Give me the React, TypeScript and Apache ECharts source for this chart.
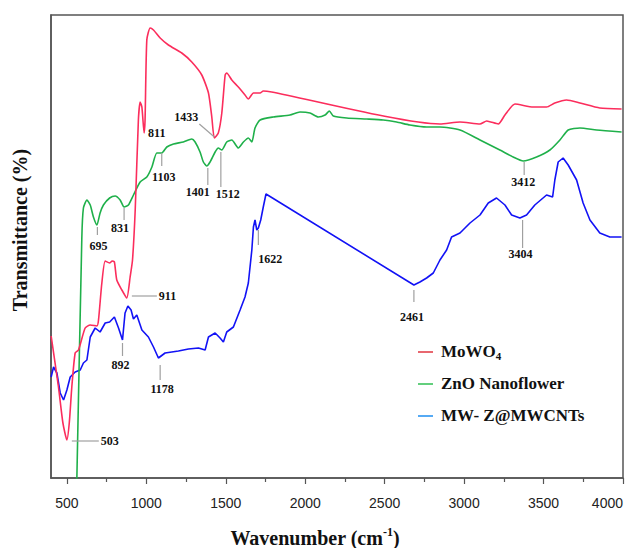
import React, { useEffect, useRef } from 'react';
import * as echarts from 'echarts';

// ---------- data ----------
const seriesNames = ['MoWO4', 'ZnO Nanoflower', 'MW- Z@MWCNTs'];
const xTicks = [500, 1000, 1500, 2000, 2500, 3000, 3500, 4000];
const xMinorTicks = [750, 1250, 1750, 2250, 2750, 3250, 3750];

const moWO4: number[][] = [
  [401, 142], [447, 91], [475, 55], [500, 38], [515, 55], [531, 91], [552, 125], [573, 128], [615, 150], [647, 153],
  [689, 152], [699, 158], [720, 195], [741, 217], [769, 215], [785, 217], [799, 216], [814, 198], [846, 188],
  [877, 180], [898, 201], [913, 218], [930, 268], [950, 358], [961, 376], [972, 371], [986, 345], [992, 358],
  [1003, 438], [1024, 450], [1045, 448], [1087, 440], [1139, 433], [1223, 425], [1286, 416], [1349, 403],
  [1391, 385], [1412, 361], [1428, 340], [1453, 345], [1475, 365], [1496, 403], [1506, 405], [1538, 398],
  [1579, 391], [1621, 383], [1642, 379], [1674, 385], [1716, 385], [1736, 387], [1789, 386], [2848, 354],
  [2974, 356], [3100, 354], [3142, 357], [3215, 354], [3257, 363], [3320, 374], [3435, 371], [3519, 371],
  [3571, 375], [3645, 378], [3729, 375], [3854, 370], [3991, 369],
];

const znO: number[][] = [
  [560, -22], [594, 240], [604, 270], [626, 278], [647, 273], [667, 261], [689, 253], [709, 265], [730, 273],
  [769, 280], [804, 282], [835, 278], [860, 271], [887, 273], [919, 283], [961, 296], [1003, 301], [1035, 311],
  [1066, 325], [1097, 325], [1129, 331], [1171, 334], [1233, 336], [1286, 339], [1307, 336], [1338, 326],
  [1359, 316], [1380, 312], [1401, 316], [1433, 326], [1453, 330], [1475, 328], [1506, 336], [1538, 338],
  [1579, 330], [1611, 336], [1642, 340], [1664, 336], [1684, 350], [1716, 358], [1799, 361], [1904, 363],
  [1967, 366], [2030, 365], [2082, 361], [2125, 363], [2152, 367], [2177, 362], [2261, 360], [2387, 359],
  [2491, 358], [2575, 356], [2659, 353], [2764, 351], [2848, 351], [2974, 348], [3100, 338], [3225, 328],
  [3309, 321], [3372, 317], [3456, 321], [3540, 328], [3603, 338], [3655, 348], [3729, 350], [3834, 348],
  [3991, 346],
];

const mwz: number[][] = [
  [401, 101], [416, 111], [437, 105], [458, 85], [479, 78], [500, 88], [521, 101], [552, 106], [584, 108],
  [604, 115], [626, 118], [647, 141], [678, 150], [709, 146], [741, 155], [769, 156], [799, 161], [825, 150],
  [850, 138], [866, 165], [884, 172], [904, 168], [919, 159], [940, 163], [972, 148], [1013, 141], [1045, 131],
  [1076, 120], [1118, 125], [1160, 126], [1202, 127], [1265, 129], [1328, 130], [1370, 128], [1391, 141],
  [1433, 145], [1464, 140], [1485, 136], [1506, 146], [1548, 151], [1590, 168], [1621, 181], [1642, 195],
  [1664, 228], [1674, 251], [1684, 258], [1695, 248], [1705, 250], [1720, 258], [1736, 271], [1753, 284],
  [2684, 193], [2722, 196], [2764, 200], [2806, 205], [2848, 218], [2890, 228], [2921, 241], [2974, 245],
  [3037, 255], [3100, 263], [3152, 275], [3204, 280], [3257, 273], [3299, 263], [3351, 260], [3393, 263],
  [3445, 273], [3519, 283], [3557, 281], [3571, 298], [3592, 316], [3623, 320], [3655, 313], [3708, 298],
  [3749, 275], [3792, 258], [3854, 245], [3917, 241], [3991, 241],
];

const peakLabels = ['811', '1433', '1103', '1401', '1512', '695', '831', '911', '892', '1178', '503', '1622', '2461', '3412', '3404'];
const peakAnchors: number[][] = [
  [986, 345], [1428, 341], [1097, 325], [1387, 310], [1469, 326], [692, 251], [860, 270], [909, 182],
  [850, 135], [1087, 113], [531, 37], [1705, 248], [2684, 188], [3378, 316], [3368, 258],
];

// ---------- layout / style (pixels) ----------
const peakLayout = [
  { lx: 0, ly: 0, tx: 4, ty: 0, align: 'left' },
  { lx: -15, ly: -13, tx: -28, ty: -20, align: 'center' },
  { lx: 0, ly: 13, tx: 2, ty: 24, align: 'center' },
  { lx: 0, ly: 17, tx: -10, ty: 24, align: 'center' },
  { lx: 0, ly: 35, tx: 7, ty: 42, align: 'center' },
  { lx: 0, ly: 8, tx: 1, ty: 19, align: 'center' },
  { lx: 0, ly: 12, tx: -4, ty: 20, align: 'center' },
  { lx: 25, ly: 0, tx: 27, ty: 0, align: 'left' },
  { lx: 0, ly: 13, tx: -2, ty: 22, align: 'center' },
  { lx: 0, ly: 15, tx: 2, ty: 24, align: 'center' },
  { lx: 27, ly: 0, tx: 29, ty: 0, align: 'left' },
  { lx: 0, ly: 15, tx: 12, ty: 29, align: 'center' },
  { lx: 0, ly: 12, tx: -2, ty: 27, align: 'center' },
  { lx: 0, ly: 13, tx: -1, ty: 20, align: 'center' },
  { lx: 0, ly: 28, tx: -2, ty: 34, align: 'center' },
];

const lineColors = ['#fb2d5c', '#1fb04a', '#1212f5'];
const legendColors = ['#e0353f', '#2fbf52', '#1e8ef0'];
const serif = '"Liberation Serif", "Times New Roman", serif';
const sans = '"Liberation Sans", Arial, sans-serif';

export default function App() {
  const ref = useRef<HTMLDivElement>(null);

  useEffect(() => {
    if (!ref.current) return;
    const chart = echarts.init(ref.current, null, { renderer: 'svg' });
    const datasets = [moWO4, znO, mwz];
    chart.setOption({
      animation: false,
      backgroundColor: '#ffffff',
      grid: {
        left: 51, right: 5, top: 15, bottom: 70,
        outerBoundsMode: 'none',
        containLabel: false,
        show: true, borderColor: '#555', borderWidth: 1.5, backgroundColor: 'transparent',
      },
      xAxis: [
        {
          type: 'value', min: 400, max: 4000, position: 'bottom',
          axisLine: { show: true, lineStyle: { color: '#555', width: 1.5 } },
          axisTick: { show: true, customValues: xTicks, length: 6, lineStyle: { color: '#555', width: 1.2 } },
          axisLabel: {
            customValues: xTicks, fontSize: 14, fontFamily: sans, color: '#222', margin: 18,
            alignMaxLabel: 'right',
            formatter: (v: number) => String(v),
          },
          splitLine: { show: false },
        },
        {
          type: 'value', min: 400, max: 4000, position: 'bottom',
          axisLine: { show: false },
          axisTick: { show: true, customValues: xMinorTicks, length: 4, lineStyle: { color: '#555', width: 1.2 } },
          axisLabel: { show: false },
          splitLine: { show: false },
        },
      ],
      yAxis: {
        type: 'value', min: 0, max: 463,
        axisLine: { show: true, lineStyle: { color: '#555', width: 1.5 } },
        axisTick: { show: false }, axisLabel: { show: false }, splitLine: { show: false },
      },
      series: datasets.map((d, i) => ({
        name: seriesNames[i],
        type: 'line',
        xAxisIndex: 0,
        yAxisIndex: 0,
        data: d,
        showSymbol: false,
        smooth: i === 2 ? false : 0.2,
        clip: true,
        lineStyle: { color: lineColors[i], width: 1.6 },
        itemStyle: { color: lineColors[i] },
        z: 3 - i,
      })),
    });

    const graphics: any[] = [];
    peakLabels.forEach((label, i) => {
      const p = chart.convertToPixel({ xAxisIndex: 0, yAxisIndex: 0 }, peakAnchors[i]) as number[];
      const L = peakLayout[i];
      if (L.lx !== 0 || L.ly !== 0) {
        graphics.push({
          type: 'line', z: 10,
          shape: { x1: p[0], y1: p[1], x2: p[0] + L.lx, y2: p[1] + L.ly },
          style: { stroke: '#a0a0a0', lineWidth: 1.2 },
        });
      }
      graphics.push({
        type: 'text', z: 10,
        x: p[0] + L.tx, y: p[1] + L.ty,
        style: { text: label, fill: '#111', font: `bold 12px ${serif}`, align: L.align, verticalAlign: 'middle' },
      });
    });

    // legend
    const legendY = [352, 384, 416];
    seriesNames.forEach((name, i) => {
      graphics.push({
        type: 'line', z: 10,
        shape: { x1: 418, y1: legendY[i], x2: 433, y2: legendY[i] },
        style: { stroke: legendColors[i], lineWidth: 1.5 },
      });
      const txt = i === 0 ? '{a|MoWO}{s|4}' : `{a|${name}}`;
      graphics.push({
        type: 'text', z: 10, x: 441, y: legendY[i] - 9,
        style: {
          text: txt, fill: '#111', align: 'left', verticalAlign: 'top',
          rich: {
            a: { font: `bold 17px ${serif}`, fill: '#111', lineHeight: 18, verticalAlign: 'top' },
            s: { font: `bold 11px ${serif}`, fill: '#111', lineHeight: 11, verticalAlign: 'bottom' },
          },
        },
      });
    });

    // axis titles
    graphics.push({
      type: 'text', z: 10, x: 315, y: 537,
      style: {
        text: '{a|Wavenumber (cm}{s|-1}{a|)}', align: 'center', verticalAlign: 'middle',
        rich: {
          a: { font: `bold 20px ${serif}`, fill: '#111', lineHeight: 22, verticalAlign: 'bottom' },
          s: { font: `bold 12px ${serif}`, fill: '#111', lineHeight: 22, verticalAlign: 'top' },
        },
      },
    });
    graphics.push({
      type: 'text', z: 10, x: 20, y: 230, rotation: Math.PI / 2,
      style: { text: 'Transmittance (%)', font: `bold 20px ${serif}`, fill: '#111', align: 'center', verticalAlign: 'middle' },
    });

    chart.setOption({ graphic: graphics });

    return () => chart.dispose();
  }, []);

  return <div ref={ref} style={{ position: 'absolute', left: 0, top: 0, width: 628, height: 548 }} />;
}
